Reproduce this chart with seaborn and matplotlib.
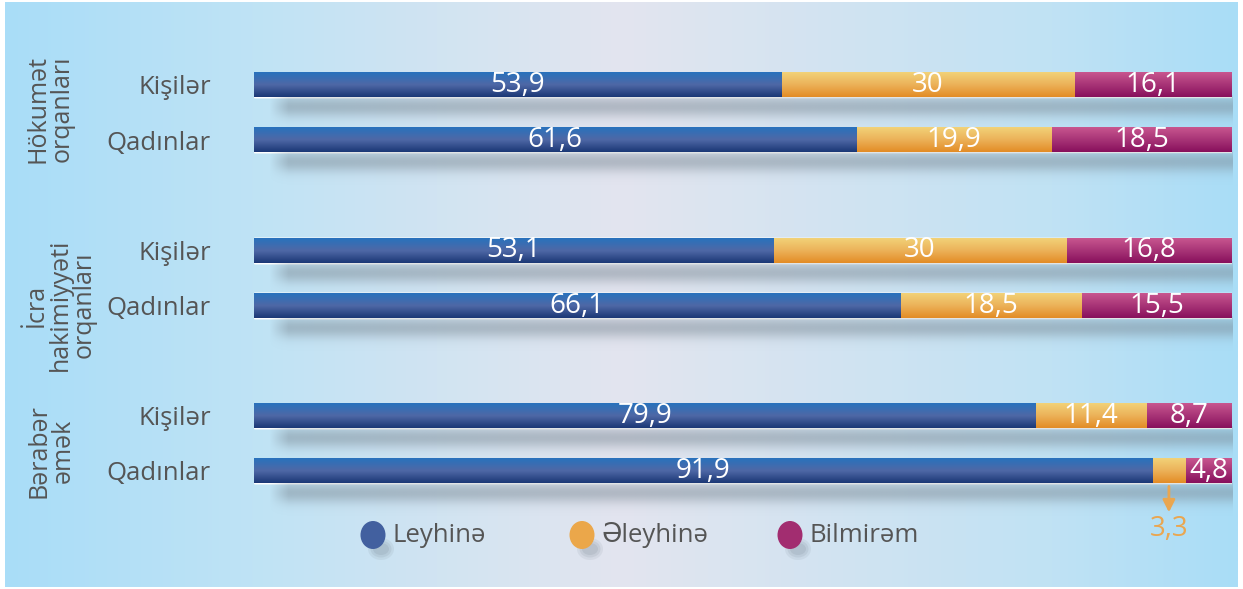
import numpy as np
import pandas as pd
import matplotlib
matplotlib.use("Agg")
import matplotlib.pyplot as plt
import seaborn as sns
from matplotlib.colors import to_rgb
from matplotlib.patches import Ellipse

# ---- data -------------------------------------------------------------------
GROUPS = ["Hökumət\norqanları", "İcra\nhakimiyyəti\norqanları", "Bərabər\nəmək"]
SEXES = ["Kişilər", "Qadınlar"]
SERIES = ["Leyhinə", "Əleyhinə", "Bilmirəm"]
LEYHINE = [53.9, 61.6, 53.1, 66.1, 79.9, 91.9]
ELEYHINE = [30.0, 19.9, 30.0, 18.5, 11.4, 3.3]
BILMIREM = [16.1, 18.5, 16.8, 15.5, 8.7, 4.8]

# gradient stops (top, middle, bottom) per series
GRADS = {
    "Leyhinə": ["#2872bd", "#4f68a6", "#1b3876"],
    "Əleyhinə": ["#f2d278", "#ecb259", "#e38c26"],
    "Bilmirəm": ["#c8568f", "#a83477", "#88105c"],
}
SOLID = {"Leyhinə": "#42609f", "Əleyhinə": "#eba74a", "Bilmirəm": "#a22d70"}
TEXT_GREY = "#555555"

W, H = 1243, 589

# rows with one empty spacer row between the groups
rows, order = [], []
for gi, g in enumerate(GROUPS):
    for s in SEXES:
        rows.append(f"{gi}|{s}")
    order += [f"{gi}|{s}" for s in SEXES]
    if gi < len(GROUPS) - 1:
        order.append(f"gap{gi}")

df = pd.DataFrame({"row": rows, "Leyhinə": LEYHINE, "Əleyhinə": ELEYHINE, "Bilmirəm": BILMIREM})
df["c1"] = df["Leyhinə"]
df["c2"] = df["c1"] + df["Əleyhinə"]
df["c3"] = df["c2"] + df["Bilmirəm"]


def grad_image(stops, n=64):
    cols = np.array([to_rgb(c) for c in stops])
    t = np.linspace(0, 1, n)
    pos = np.linspace(0, 1, len(stops))
    img = np.stack([np.interp(t, pos, cols[:, k]) for k in range(3)], axis=-1)
    return img[:, None, :]


sns.set_theme(style="white")
plt.rcParams["font.family"] = ["Open Sans", "DejaVu Sans"]

fig = plt.figure(figsize=(W / 100, H / 100), dpi=100)
fig.patch.set_facecolor("white")

# ---- background panel (pixel coordinates) -------------------------------------
bg = fig.add_axes([0, 0, 1, 1])
bg.set_xlim(0, W); bg.set_ylim(H, 0); bg.axis("off")
xs = np.linspace(0, 1, 400)
stops_x = [0.0, 0.2, 0.5, 0.85, 1.0]
stops_c = np.array([to_rgb(c) for c in ["#a9ddf8", "#bfe3f5", "#e3e5ef", "#c0e2f4", "#a9ddf7"]])
row_img = np.stack([np.interp(xs, stops_x, stops_c[:, k]) for k in range(3)], axis=-1)
bg.imshow(row_img[None, :, :], extent=[5, W - 5, H - 2, 2], aspect="auto", interpolation="bilinear")

# ---- main axes ----------------------------------------------------------------
ax = fig.add_axes([254 / W, 0, 978 / W, 1])
ax.patch.set_alpha(0)

layers = [("Bilmirəm", "c3"), ("Əleyhinə", "c2"), ("Leyhinə", "c1")]
layer_patches = {}
for name, col in layers:
    n0 = len(ax.patches)
    sns.barplot(data=df, y="row", x=col, order=order, color=SOLID[name], width=0.44,
                orient="h", ax=ax, zorder=1)
    layer_patches[name] = ax.patches[n0:]

# gradients on every bar, keeping draw order
for name, _ in layers:
    img = grad_image(GRADS[name])
    for p in layer_patches[name]:
        x0, y0, w, h = p.get_x(), p.get_y(), p.get_width(), p.get_height()
        ax.imshow(img, extent=[x0, x0 + w, y0 + h, y0], aspect="auto",
                  interpolation="bilinear", zorder=2)

# soft shadows below bars
n_sh = 60
sh_y = np.linspace(0, 1, n_sh)
sh_x = np.linspace(0, 1, 200)
alpha_y = 0.45 * np.exp(-((sh_y - 0.32) / 0.3) ** 2)
alpha_x = np.clip(sh_x / 0.02, 0, 1)
shadow = np.zeros((n_sh, 200, 4))
shadow[..., :3] = to_rgb("#75838f")
shadow[..., 3] = alpha_y[:, None] * alpha_x[None, :]
for p in layer_patches["Leyhinə"]:
    y_bot = p.get_y() + p.get_height()
    ax.imshow(shadow, extent=[1.3, 100, y_bot + 0.62, y_bot - 0.02], aspect="auto",
              interpolation="bilinear", zorder=1.5)

# value labels
ypos = {r: order.index(r) for r in rows}
for i, r in df.iterrows():
    y = ypos[r["row"]]
    left = 0.0
    for name in SERIES:
        v = r[name]
        lab = f"{v:g}".replace(".", ",")
        cx = left + v / 2
        if v >= 4:
            ax.text(cx, y, lab, ha="center", va="center", color="white", fontsize=20, zorder=3)
        else:
            ax.annotate("", xy=(cx, y + 0.8), xytext=(cx, y + 0.23),
                        arrowprops=dict(arrowstyle="-|>", color="#eaa650", lw=2,
                                        mutation_scale=18), zorder=3)
            ax.text(cx, y + 1.06, lab, ha="center", va="center", color="#eaa650",
                    fontsize=20, zorder=3)
        left += v

ax.set_xlim(0, 100)
ax.set_ylim(9.14, -1.541)
ax.set_yticks([ypos[r] for r in rows])
ax.set_yticklabels([r.split("|")[1] for r in rows], fontsize=18.5, color=TEXT_GREY)
ax.tick_params(axis="y", length=0, pad=31)
ax.set_xticks([])
ax.set_xlabel(""); ax.set_ylabel("")
for s in ax.spines.values():
    s.set_visible(False)

# group labels (rotated)
group_pos = [(50, 109), (60, 305), (51, 451)]
for g, (px, py) in zip(GROUPS, group_pos):
    fig.text(px / W, 1 - py / H, g, rotation=90, ha="center", va="center",
             multialignment="center", fontsize=18, color=TEXT_GREY, linespacing=0.95)

# legend: equal-width columns like the original
leg_x = [373, 582, 790]
leg_y = 535
for name, lx in zip(SERIES, leg_x):
    for k, a in enumerate([0.10, 0.12, 0.14]):
        bg.add_patch(Ellipse((lx + 8, leg_y + 14), 26 - 5 * k, 22 - 5 * k,
                             facecolor="#6d7a86", edgecolor="none", alpha=a, zorder=2))
    bg.add_patch(Ellipse((lx, leg_y), 25, 28, facecolor=SOLID[name], edgecolor="none", zorder=3))
    bg.text(lx + 20, leg_y, name, ha="left", va="center", fontsize=18.5,
            color=TEXT_GREY, zorder=3)

fig.savefig("out.png", dpi=100)
